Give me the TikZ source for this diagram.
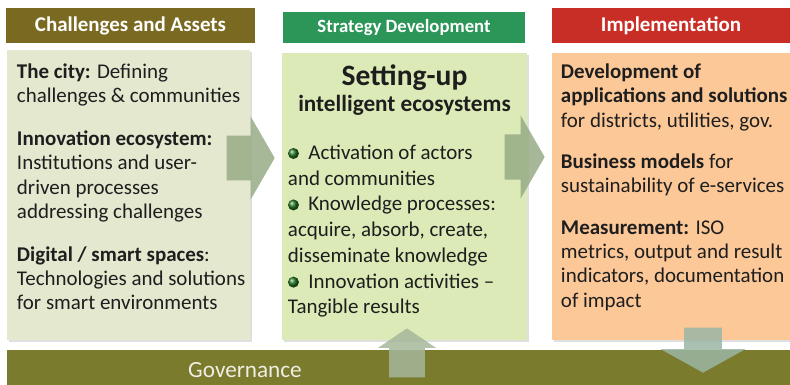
\documentclass[tikz,border=0pt]{standalone}
\usepackage{fontspec}
\setmainfont{Carlito}
\usetikzlibrary{positioning}
\usetikzlibrary{shapes.arrows}
\usetikzlibrary{shadows}

\definecolor{assetolive}{RGB}{122,105,32}
\definecolor{stratgreen}{RGB}{44,150,88}
\definecolor{implred}{RGB}{201,46,38}
\definecolor{assetfill}{RGB}{228,232,207}
\definecolor{stratfill}{RGB}{219,234,182}
\definecolor{implfill}{RGB}{252,200,152}
\definecolor{govolive}{RGB}{122,123,44}
\definecolor{flowgreen}{RGB}{152,172,134}
\definecolor{bulletgreen}{RGB}{35,115,35}
\definecolor{inkgray}{RGB}{30,30,30}

% small green ball used as bullet
\newcommand{\gball}{\tikz[baseline=-0.6ex]\shade[ball color=bulletgreen] (0,0) circle (3.9pt);\hspace{0.45em}}

\begin{document}
\begin{tikzpicture}[
    x=0.025cm, y=-0.025cm,
    header/.style={
        rectangle,
        inner sep=0pt,
        minimum height=0.875cm,
        text=white,
        font=\bfseries\fontsize{14.9}{17}\selectfont
    },
    panel/.style={
        rectangle,
        inner sep=0pt,
        drop shadow={shadow xshift=1.2pt, shadow yshift=-1.2pt, opacity=0.25}
    },
    body/.style={
        inner sep=0pt,
        align=left,
        text=inkgray,
        font=\fontsize{14.9}{17.3}\selectfont
    },
    flow/.style={
        single arrow,
        draw=none,
        fill=flowgreen,
        fill opacity=0.85,
        inner sep=0pt,
        anchor=tip
    }
]
    \clip (0,0) rectangle (790,385);

    % headers
    \node[header, fill=assetolive, minimum width=6.225cm] (hdassets) at (130.5,25.5) {Challenges and Assets};
    \node[header, fill=stratgreen, minimum width=6.05cm, minimum height=0.775cm,
          font=\bfseries\fontsize{13.3}{15}\selectfont] (hdstrat) at (404,27.5) {Strategy Development};
    \node[header, fill=implred, minimum width=5.95cm] (hdimpl) at (671,25.5) {Implementation};

    % panels
    \node[panel, fill=assetfill, minimum width=6.075cm, minimum height=7.25cm] (assets) at (128.5,195) {};
    \node[panel, fill=stratfill, minimum width=6.125cm, minimum height=7.175cm] (strat) at (404.5,196.5) {};
    \node[panel, fill=implfill, minimum width=6.3cm, minimum height=7.175cm] (impl) at (678,196.5) {};

    % governance band
    \node[rectangle, inner sep=0pt, fill=govolive, minimum width=19.825cm, minimum height=1.05cm] (band) at (403.5,371) {};
    \node[text={rgb,255:red,238;green,238;blue,228}, font=\fontsize{16.5}{18}\selectfont] (govlabel) at (245,370) {Governance};

    % panel texts
    \node[body, below right=0.35cm and 0.25cm of assets.north west] (assetstext) {%
        \textbf{The city:} Defining\\
        challenges \& communities\\[13pt]
        \textbf{Innovation ecosystem:}\\
        Institutions and user-\\
        driven processes\\
        addressing challenges\\[13pt]
        \textbf{Digital / smart spaces}:\\
        Technologies and solutions\\
        for smart environments};

    \node[body, align=center, below=0.3cm of strat.north,
          font=\bfseries\fontsize{16.5}{18.5}\selectfont] (strattitle) {%
        {\fontsize{21}{18.5}\selectfont Setting-up}\\
        intelligent ecosystems};

    \node[body, below right=2.3cm and 0.15cm of strat.north west,
          font=\fontsize{14.9}{18.3}\selectfont] (strattext) {%
        \gball Activation of actors\\
        and communities\\
        \gball Knowledge processes:\\
        acquire, absorb, create,\\
        disseminate knowledge\\
        \gball Innovation activities --\\
        Tangible results};

    \node[body, below right=0.275cm and 0.225cm of impl.north west] (impltext) {%
        \textbf{Development of}\\
        \textbf{applications and solutions}\\
        for districts, utilities, gov.\\[12pt]
        \textbf{Business models} for\\
        sustainability of e-services\\[12pt]
        \textbf{Measurement:} ISO\\
        metrics, output and result\\
        indicators, documentation\\
        of impact};

    % block arrows
    \node[flow, inner ysep=0.55cm, minimum height=1.2cm,
          single arrow head extend=0.4875cm, single arrow tip angle=120] (flowab) at (275,158) {};
    \node[flow, inner ysep=0.56cm, minimum height=1.0cm,
          single arrow head extend=0.475cm, single arrow tip angle=120] (flowbc) at (545,157) {};
    \node[flow, shape border rotate=90, fill={rgb,255:red,165;green,184;blue,155},
          inner xsep=0.4375cm, minimum height=1.225cm,
          single arrow head extend=0.275cm, single arrow tip angle=112] (flowup) at (407,328) {};
    \node[flow, shape border rotate=270, fill={rgb,255:red,155;green,182;blue,165},
          inner xsep=0.4625cm, minimum height=1.125cm,
          single arrow head extend=0.5875cm, single arrow tip angle=122] (flowdown) at (703,373) {};
\end{tikzpicture}
\end{document}
